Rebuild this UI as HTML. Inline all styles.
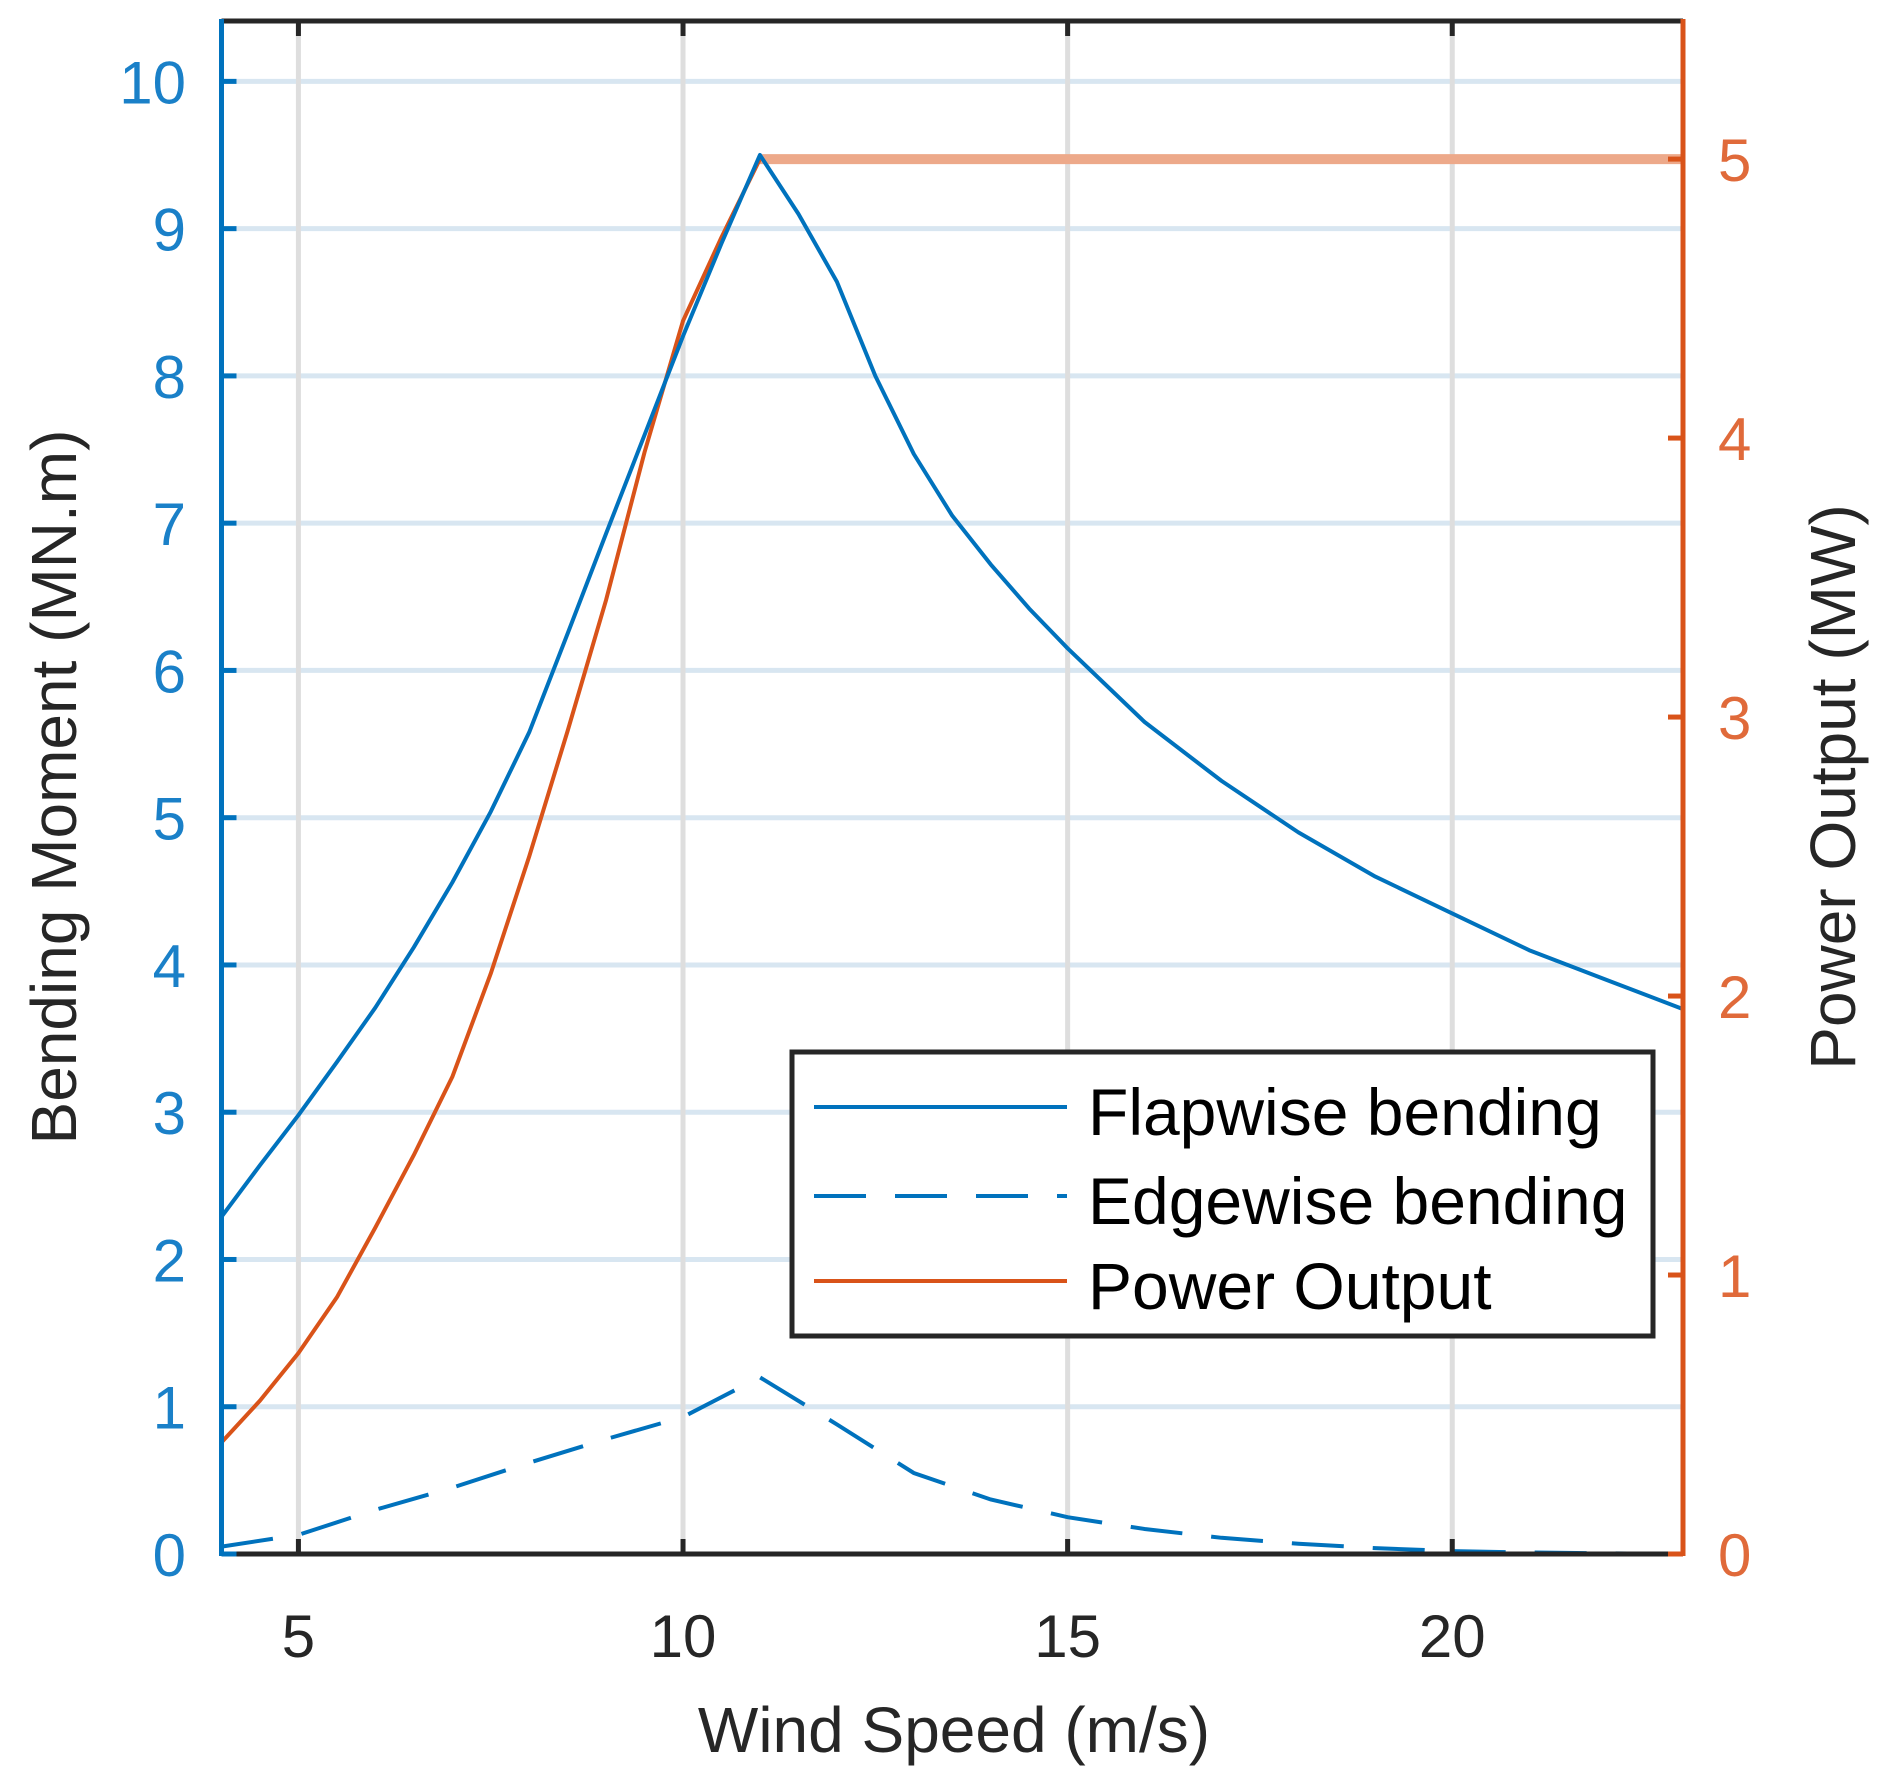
<!DOCTYPE html>
<html><head><meta charset="utf-8"><style>
html,body{margin:0;padding:0;background:#fff;}
svg{display:block;font-family:"Liberation Sans",sans-serif;}
</style></head><body>
<svg id="chart" width="1888" height="1792" viewBox="0 0 1888 1792" xmlns="http://www.w3.org/2000/svg">
<g id="gridG"></g>
<g id="seriesG"></g>
<g id="axesG"></g>
<g id="legend">
  <rect x="792" y="1052" width="861" height="284" fill="#fff" stroke="#262626" stroke-width="5"/>
  <line x1="814" y1="1107" x2="1067" y2="1107" stroke="#0072BD" stroke-width="4"/>
  <text x="1088" y="1135" font-size="66" fill="#000">Flapwise bending</text>
  <line x1="814" y1="1196" x2="1067" y2="1196" stroke="#0072BD" stroke-width="4" stroke-dasharray="52 29"/>
  <text x="1088" y="1224" font-size="66" fill="#000">Edgewise bending</text>
  <line x1="814" y1="1281" x2="1067" y2="1281" stroke="#D95319" stroke-width="4"/>
  <text x="1088" y="1309" font-size="66" fill="#000">Power Output</text>
</g>
</svg>
<script>
const windSpeed = [4,4.5,5,5.5,6,6.5,7,7.5,8,8.5,9,9.5,10,10.5,11,11.5,12,12.5,13,13.5,14,14.5,15,16,17,18,19,20,21,22,23];
const flapwise = [2.29,2.64,2.98,3.34,3.71,4.12,4.56,5.04,5.58,6.25,6.93,7.6,8.27,8.9,9.5,9.1,8.64,8.0,7.47,7.05,6.72,6.42,6.15,5.65,5.25,4.9,4.6,4.35,4.1,3.9,3.7];
const powerMW = [0.4,0.55,0.72,0.92,1.17,1.43,1.71,2.08,2.5,2.95,3.42,3.95,4.42,4.72,5,5,5,5,5,5,5,5,5,5,5,5,5,5,5,5,5];
const edgeSpeed = [4,5,6,7,8,9,10,11,12,13,14,15,16,17,18,19,20,21,22,23];
const edgewise = [0.05,0.13,0.3,0.45,0.62,0.78,0.93,1.2,0.88,0.55,0.37,0.25,0.17,0.11,0.07,0.04,0.02,0.01,0.005,0];
const xTicks = [5,10,15,20];
const yLeftTicks = [0,1,2,3,4,5,6,7,8,9,10];
const yRightTicks = [0,1,2,3,4,5];

const PL=221.5,PR=1683,PT=21,PB=1554;
const xMin=4,xMax=23, yLMax=10.41, yRMax=5.495;
const sx=v=>PL+(v-xMin)/(xMax-xMin)*(PR-PL);
const syL=v=>PB-v/yLMax*(PB-PT);
const syR=v=>PB-v/yRMax*(PB-PT);
const NS="http://www.w3.org/2000/svg";
function mk(tag,attrs,parent,text){const e=document.createElementNS(NS,tag);for(const k in attrs)e.setAttribute(k,attrs[k]);if(text!==undefined)e.textContent=text;parent.appendChild(e);return e;}
const gridG=document.getElementById('gridG'),seriesG=document.getElementById('seriesG'),axesG=document.getElementById('axesG');

yLeftTicks.forEach(v=>{if(v===0)return;const l=mk('line',{x1:PL,x2:PR,y1:syL(v),y2:syL(v),stroke:'#d8e6f1','stroke-width':5},gridG);

});
xTicks.forEach(v=>{const l=mk('line',{x1:sx(v),x2:sx(v),y1:PT,y2:PB,stroke:'#dedede','stroke-width':5},gridG);

});

function pathD(xs,ys,fy){return xs.map((x,i)=>(i?'L':'M')+sx(x).toFixed(1)+' '+fy(ys[i]).toFixed(1)).join(' ');}
const ri=powerMW.indexOf(Math.max(...powerMW));
const ratedLine=mk('path',{d:pathD(windSpeed.slice(ri),powerMW.slice(ri),syR),fill:'none',stroke:'#EDA98A','stroke-width':10},seriesG);


const pwLine=mk('path',{d:pathD(windSpeed.slice(0,ri+1),powerMW.slice(0,ri+1),syR),fill:'none',stroke:'#D95319','stroke-width':4,'stroke-linejoin':'round'},seriesG);


const flLine=mk('path',{d:pathD(windSpeed,flapwise,syL),fill:'none',stroke:'#0072BD','stroke-width':4,'stroke-linejoin':'round'},seriesG);


const edLine=mk('path',{d:pathD(edgeSpeed,edgewise,syL),fill:'none',stroke:'#0072BD','stroke-width':4,'stroke-dasharray':'52 29'},seriesG);



const axTop=mk('line',{x1:PL,x2:PR,y1:PT,y2:PT,stroke:'#262626','stroke-width':5},axesG);


const axBot=mk('line',{x1:PL,x2:PR,y1:PB,y2:PB,stroke:'#262626','stroke-width':5},axesG);


const axLeft=mk('line',{x1:PL,x2:PL,y1:PT-2,y2:PB+2,stroke:'#0072BD','stroke-width':5},axesG);


const axRight=mk('line',{x1:PR,x2:PR,y1:PT-2,y2:PB+2,stroke:'#D95319','stroke-width':5},axesG);



xTicks.forEach(v=>{
 const t1=mk('line',{x1:sx(v),x2:sx(v),y1:PB,y2:PB-15,stroke:'#262626','stroke-width':5},axesG);
 
 
 const t2=mk('line',{x1:sx(v),x2:sx(v),y1:PT,y2:PT+15,stroke:'#262626','stroke-width':5},axesG);
 
 
 const tx=mk('text',{x:sx(v),y:1657,'text-anchor':'middle','font-size':60,fill:'#262626'},axesG,String(v));
 
 
});
yLeftTicks.forEach(v=>{
 const t=mk('line',{x1:PL,x2:PL+15,y1:syL(v),y2:syL(v),stroke:'#0072BD','stroke-width':5},axesG);
 
 
 const tx=mk('text',{x:186,y:syL(v)+22,'text-anchor':'end','font-size':60,fill:'#1a80c8'},axesG,String(v));
 
 
});
yRightTicks.forEach(v=>{
 const t=mk('line',{x1:PR,x2:PR-15,y1:syR(v),y2:syR(v),stroke:'#D95319','stroke-width':5},axesG);
 
 
 const tx=mk('text',{x:1718,y:syR(v)+22,'text-anchor':'start','font-size':60,fill:'#e06a3a'},axesG,String(v));
 
 
});
const xTitle=mk('text',{x:954,y:1752,'text-anchor':'middle','font-size':64,fill:'#262626'},axesG,'Wind Speed (m/s)');


const yLTitle=mk('text',{x:0,y:0,'text-anchor':'middle','font-size':64,fill:'#262626',transform:'translate(76,787) rotate(-90)'},axesG,'Bending Moment (MN.m)');


const yRTitle=mk('text',{x:0,y:0,'text-anchor':'middle','font-size':64,fill:'#262626',transform:'translate(1855,787) rotate(-90)'},axesG,'Power Output (MW)');


</script>
</body></html>
